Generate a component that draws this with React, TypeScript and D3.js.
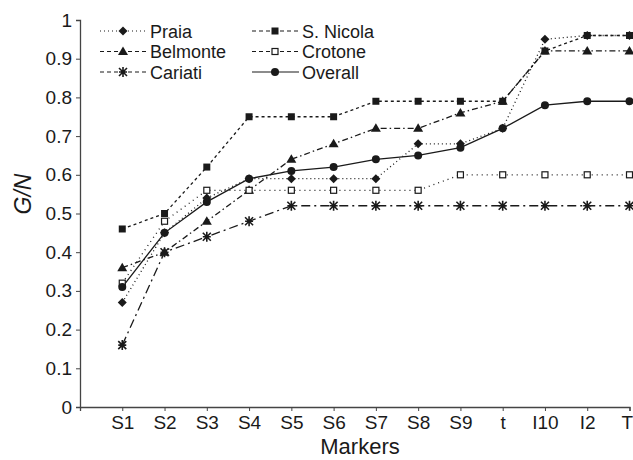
import React, { useEffect, useRef } from 'react'
import * as d3 from 'd3'

const markers = ['S1', 'S2', 'S3', 'S4', 'S5', 'S6', 'S7', 'S8', 'S9', 't', 'I10', 'I2', 'T']
const yTicks = [0, 0.1, 0.2, 0.3, 0.4, 0.5, 0.6, 0.7, 0.8, 0.9, 1]

const praia = [0.27, 0.45, 0.54, 0.59, 0.59, 0.59, 0.59, 0.68, 0.68, 0.72, 0.95, 0.96, 0.96]
const sNicola = [0.46, 0.5, 0.62, 0.75, 0.75, 0.75, 0.79, 0.79, 0.79, 0.79, 0.92, 0.96, 0.96]
const belmonte = [0.36, 0.4, 0.48, 0.56, 0.64, 0.68, 0.72, 0.72, 0.76, 0.79, 0.92, 0.92, 0.92]
const crotone = [0.32, 0.48, 0.56, 0.56, 0.56, 0.56, 0.56, 0.56, 0.6, 0.6, 0.6, 0.6, 0.6]
const cariati = [0.16, 0.4, 0.44, 0.48, 0.52, 0.52, 0.52, 0.52, 0.52, 0.52, 0.52, 0.52, 0.52]
const overall = [0.31, 0.45, 0.53, 0.59, 0.61, 0.62, 0.64, 0.65, 0.67, 0.72, 0.78, 0.79, 0.79]

const ink = '#1a1a1a'

const series = [
  { name: 'Praia', values: praia, dash: '1,3', marker: 'diamond', col: 0, row: 0 },
  { name: 'S. Nicola', values: sNicola, dash: '3,3', marker: 'square', col: 1, row: 0 },
  { name: 'Belmonte', values: belmonte, dash: '6,3,1.5,3', marker: 'triangle', col: 0, row: 1 },
  { name: 'Crotone', values: crotone, dash: '1,4', marker: 'open', col: 1, row: 1 },
  { name: 'Cariati', values: cariati, dash: '9,4,2,4', marker: 'star', col: 0, row: 2 },
  { name: 'Overall', values: overall, dash: null, marker: 'circle', col: 1, row: 2 },
]

function drawMarker(g, type, x, y) {
  if (type === 'circle') {
    g.append('circle').attr('cx', x).attr('cy', y).attr('r', 4).attr('fill', ink)
  } else if (type === 'square') {
    g.append('rect').attr('x', x - 3.5).attr('y', y - 3.5).attr('width', 7).attr('height', 7).attr('fill', ink)
  } else if (type === 'open') {
    g.append('rect').attr('x', x - 3).attr('y', y - 3).attr('width', 6).attr('height', 6)
      .attr('fill', 'white').attr('stroke', ink).attr('stroke-width', 1.2)
  } else if (type === 'diamond') {
    g.append('path').attr('d', `M${x},${y - 4.5}L${x + 4.5},${y}L${x},${y + 4.5}L${x - 4.5},${y}Z`).attr('fill', ink)
  } else if (type === 'triangle') {
    g.append('path').attr('d', `M${x},${y - 5}L${x + 5},${y + 3.5}L${x - 5},${y + 3.5}Z`).attr('fill', ink)
  } else if (type === 'star') {
    g.append('path')
      .attr('d', `M${x - 4},${y - 4}L${x + 4},${y + 4}M${x + 4},${y - 4}L${x - 4},${y + 4}M${x},${y - 5}L${x},${y + 5}M${x - 4},${y}L${x + 4},${y}`)
      .attr('stroke', ink).attr('stroke-width', 1.6).attr('fill', 'none')
  }
}

function Chart() {
  const svgRef = useRef(null)

  const width = 633
  const height = 460
  const left = 80
  const top = 20
  const bottom = 407
  const right = 629.5

  useEffect(() => {
    const svg = d3.select(svgRef.current)
    svg.selectAll('*').remove()

    const x = d3.scaleLinear().domain([0, markers.length]).range([left, right])
    const y = d3.scaleLinear().domain([0, 1]).range([bottom, top])
    const font = '"Liberation Sans", Arial, sans-serif'

    // y axis
    const ya = svg.append('g')
      .attr('transform', `translate(${left},0)`)
      .call(d3.axisLeft(y).tickValues(yTicks).tickSize(4).tickPadding(4).tickFormat(d => d === 0 || d === 1 ? String(d) : d3.format('.1f')(d)))
    ya.select('.domain').attr('stroke', '#444').attr('stroke-width', 1.3)
    ya.selectAll('line').attr('stroke', '#444')
    ya.selectAll('text').attr('font-size', 19).attr('font-family', font).attr('fill', ink)

    // x axis
    const xa = svg.append('g')
      .attr('transform', `translate(0,${bottom})`)
      .call(d3.axisBottom(x).tickValues(d3.range(0, markers.length + 1)).tickSize(4).tickPadding(5)
        .tickFormat(i => (i > 0 ? markers[i - 1] : '')))
    xa.select('.domain').attr('stroke', '#444').attr('stroke-width', 1.3)
    xa.selectAll('line').attr('stroke', '#444')
    xa.selectAll('text').attr('font-size', 19).attr('font-family', font).attr('fill', ink)
    // last label sits against the right edge
    xa.selectAll('text').filter(i => i === markers.length).attr('text-anchor', 'end').attr('x', 3)

    svg.append('text')
      .attr('x', 360).attr('y', 454)
      .attr('text-anchor', 'middle')
      .attr('font-size', 22).attr('font-family', font).attr('fill', ink)
      .text('Markers')

    svg.append('text')
      .attr('transform', `translate(31,194) rotate(-90)`)
      .attr('text-anchor', 'middle')
      .attr('font-size', 23).attr('font-style', 'italic').attr('font-family', font).attr('fill', ink)
      .text('G/N')

    const line = d3.line().x((d, i) => x(i + 1)).y(d => y(d))

    const plot = svg.append('g')
    series.forEach(s => {
      plot.append('path')
        .attr('d', line(s.values))
        .attr('fill', 'none')
        .attr('stroke', ink)
        .attr('stroke-width', 1.3)
        .attr('stroke-dasharray', s.dash)
    })
    series.forEach(s => {
      s.values.forEach((v, i) => drawMarker(plot, s.marker, x(i + 1), y(v)))
    })

    // legend
    const legend = svg.append('g')
    series.forEach(s => {
      const x0 = s.col === 0 ? 100 : 252
      const yy = 31 + s.row * 20.5
      legend.append('line')
        .attr('x1', x0).attr('x2', x0 + 47).attr('y1', yy).attr('y2', yy)
        .attr('stroke', ink).attr('stroke-width', 1.2)
        .attr('stroke-dasharray', s.dash ? (s.name === 'Praia' ? '1,3' : '4,3') : null)
      drawMarker(legend, s.marker, x0 + 23, yy)
      legend.append('text')
        .attr('x', x0 + 50).attr('y', yy + 6.5)
        .attr('font-size', 18).attr('font-family', font).attr('fill', ink)
        .text(s.name)
    })
  }, [])

  return (
    <svg ref={svgRef} width={width} height={height}
      style={{ position: 'absolute', left: 0, top: 0, background: 'white' }} />
  )
}

export default function App() {
  return <Chart />
}
